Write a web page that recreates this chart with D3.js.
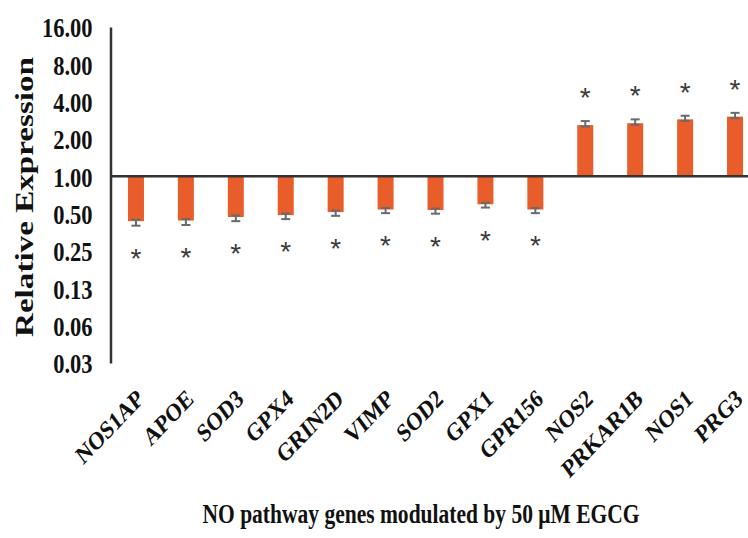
<!DOCTYPE html>
<html><head><meta charset="utf-8">
<script src="https://cdn.jsdelivr.net/npm/d3@7"></script>
<style>body{margin:0;background:#fff}svg{display:block}</style>
</head><body>
<svg id="c" width="748" height="538"></svg>
<script>
const categories = ["NOS1AP","APOE","SOD3","GPX4","GRIN2D","VIMP","SOD2","GPX1","GPR156","NOS2","PRKAR1B","NOS1","PRG3"];
const values = [0.435,0.44,0.47,0.487,0.515,0.54,0.535,0.595,0.54,2.59,2.68,2.88,3.03];
const errors = [0.035,0.035,0.035,0.035,0.035,0.035,0.035,0.035,0.035,0.2,0.2,0.2,0.22];
const significant = [true,true,true,true,true,true,true,true,true,true,true,true,true];
const tickValues = [16,8,4,2,1,0.5,0.25,0.125,0.0625,0.03125];
const tickLabels = ["16.00","8.00","4.00","2.00","1.00","0.50","0.25","0.13","0.06","0.03"];
const yTitle = "Relative Expression";
const xTitle = "NO pathway genes modulated by 50 \u03bcM EGCG";

const svg = d3.select("#c");
const serif = "'Liberation Serif','Times New Roman',serif";
const x = d3.scaleBand().domain(categories).range([111, 760]).paddingInner(0.68).paddingOuter(0.34);
const y = d3.scaleLog().base(2).domain([0.03125, 16]).range([363, 27]);
const cx = d => x(d) + x.bandwidth()/2;
const data = categories.map((c,i)=>({c, v:values[i], e:errors[i], s:significant[i]}));

// bars
svg.append("g").selectAll("rect").data(data).join("rect")
  .attr("x", d=>cx(d.c)-8).attr("width", 16)
  .attr("y", d=>Math.min(y(d.v), y(1)))
  .attr("height", d=>Math.abs(y(d.v)-y(1)))
  .attr("fill", "#e85d2a");

// error bars (outward)
const eg = svg.append("g").attr("stroke","#6a6a6a").attr("stroke-width",2);
data.forEach(d=>{
  const up = d.v >= 1;
  const y0 = y(d.v) + (up? 1.5 : -1.5);
  const y1 = y(up ? d.v + d.e : d.v - d.e);
  const X = cx(d.c);
  eg.append("line").attr("x1",X).attr("x2",X).attr("y1",y0).attr("y2",y1);
  eg.append("line").attr("x1",X-4.5).attr("x2",X+4.5).attr("y1",y0).attr("y2",y0);
  eg.append("line").attr("x1",X-4.5).attr("x2",X+4.5).attr("y1",y1).attr("y2",y1);
});

// asterisks
svg.append("g").selectAll("text").data(data.filter(d=>d.s)).join("text")
  .attr("x", d=>cx(d.c))
  .attr("y", d=> d.v>=1 ? y(d.v + d.e) - 30 + 16 : y(d.v - d.e) + 26 + 16)
  .attr("text-anchor","middle")
  .attr("font-family","'Liberation Sans',Arial,sans-serif")
  .attr("font-size",28).attr("fill","#3a3a3a").text("*");

// y axis
const yAxis = d3.axisLeft(y).tickValues(tickValues).tickSize(0).tickPadding(18)
  .tickFormat((d,i)=>tickLabels[i]);
const ga = svg.append("g").attr("transform","translate(110.5,0)").call(yAxis);
ga.select(".domain").attr("stroke","#333").attr("stroke-width",2.5);
ga.selectAll("text").attr("font-family",serif).attr("font-weight","bold")
  .attr("font-size",22.5).attr("fill","#111").attr("dy","0.36em")
  .attr("transform","scale(1,1.2)");

// baseline at 1
svg.append("line").attr("x1",110).attr("x2",748).attr("y1",y(1)).attr("y2",y(1))
  .attr("stroke","#333").attr("stroke-width",2.5);

// x labels
svg.append("g").selectAll("text").data(categories).join("text")
  .attr("transform", d=>`translate(${cx(d)+9},${401}) scale(1,1.2) rotate(-41)`)
  .attr("text-anchor","end")
  .attr("font-family",serif).attr("font-weight","bold").attr("font-size",21)
  .attr("fill","#111").text(d=>d);

// titles
svg.append("text").attr("transform","translate(33,197) rotate(-90)")
  .attr("text-anchor","middle").attr("font-family",serif).attr("font-weight","bold")
  .attr("font-size",25).attr("fill","#111")
  .attr("textLength",280).attr("lengthAdjust","spacingAndGlyphs").text(yTitle);
svg.append("text").attr("transform","translate(421,523) scale(1,1.2)")
  .attr("text-anchor","middle").attr("font-family",serif).attr("font-weight","bold")
  .attr("font-size",22).attr("fill","#111")
  .attr("textLength",437).attr("lengthAdjust","spacingAndGlyphs").text(xTitle);
</script>
</body></html>
